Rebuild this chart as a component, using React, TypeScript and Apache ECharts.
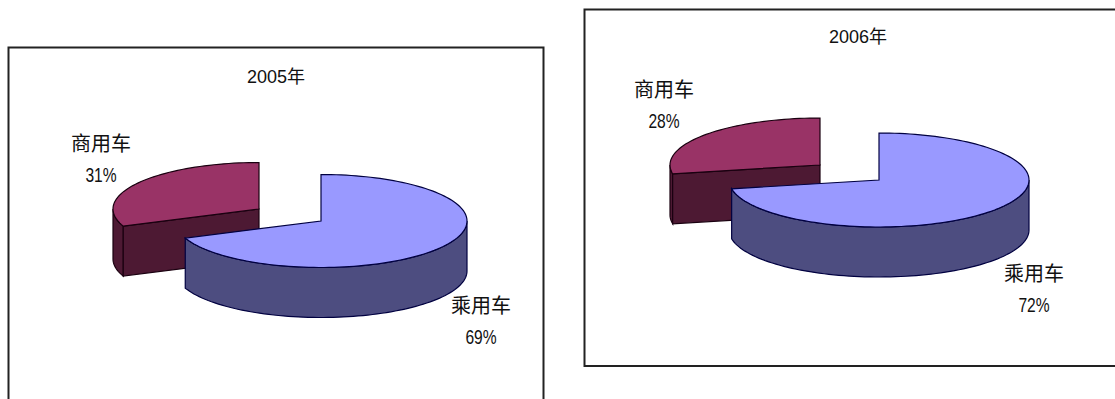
import React, { useEffect, useRef } from "react";
import * as echarts from "echarts";

const categories = ["商用车", "乘用车"];
const share2005 = [31, 69];
const share2006 = [28, 72];
const years = ["2005年", "2006年"];

const FONT = '"Liberation Sans", "Noto Sans CJK SC", sans-serif';
const TOP_COLORS = ["#993366", "#9999ff"];
const SIDE_COLORS = ["#4d1933", "#4d4d80"];
const EDGE = ["#1a0010", "#000040"];

type Panel = {
  year: string;
  shares: number[];
  frame: number[];
  titleAt: number[];
  rx: number;
  ry: number;
  depth: number;
  hubs: number[][];
  labels: number[][];
};

const panels: Panel[] = [
  {
    year: years[0],
    shares: share2005,
    frame: [8.5, 47.5, 535, 400],
    titleAt: [276, 68],
    rx: 146,
    ry: 46.5,
    depth: 50,
    hubs: [[259, 209], [321, 221]],
    labels: [[101, 144], [481, 306]],
  },
  {
    year: years[1],
    shares: share2006,
    frame: [584.5, 9.5, 540, 356.5],
    titleAt: [858, 28],
    rx: 150,
    ry: 47,
    depth: 50,
    hubs: [[820, 165], [879, 180]],
    labels: [[664, 90], [1034, 274]],
  },
];

// Elliptical rim point; the angle runs clockwise from twelve o'clock, in degrees.
const rim = (hub: number[], rx: number, ry: number, deg: number, drop = 0): number[] => {
  const a = (deg * Math.PI) / 180;
  return [hub[0] + rx * Math.sin(a), hub[1] - ry * Math.cos(a) + drop];
};

const arcPoints = (hub: number[], rx: number, ry: number, from: number, to: number, drop = 0) => {
  const steps = Math.max(2, Math.ceil(Math.abs(to - from) / 2));
  const pts: number[][] = [];
  for (let i = 0; i <= steps; i++) pts.push(rim(hub, rx, ry, from + ((to - from) * i) / steps, drop));
  return pts;
};

const face = (points: number[][], fill: string, stroke: string) => ({
  type: "polygon",
  shape: { points },
  style: { fill, stroke, lineWidth: 1.2 },
});

const pieSeries = (panel: Panel) => ({
  type: "custom",
  coordinateSystem: "none",
  silent: true,
  data: categories.map((name, i) => ({ name, value: [panel.shares[i]] })),
  renderItem: (params: any, api: any) => {
    const i = params.dataIndex;
    const { rx, ry, depth } = panel;
    const hub = panel.hubs[i];
    // 乘用车 starts at twelve o'clock; 商用车 closes the circle back to it.
    const sweep = api.value(0) * 3.6;
    const start = i === 1 ? 0 : 360 - sweep;
    const end = start + sweep;
    const children: any[] = [];

    // Outer wall, only where the rim faces the viewer (90° to 270°).
    const wallFrom = Math.max(start, 90);
    const wallTo = Math.min(end, 270);
    if (wallTo > wallFrom) {
      children.push(
        face(
          [
            ...arcPoints(hub, rx, ry, wallFrom, wallTo),
            ...arcPoints(hub, rx, ry, wallTo, wallFrom, depth),
          ],
          SIDE_COLORS[i],
          EDGE[i],
        ),
      );
    }
    // Cut face of the slice that opens toward the viewer.
    if (i === 0) {
      const tip = rim(hub, rx, ry, start);
      children.push(
        face(
          [hub, tip, [tip[0], tip[1] + depth], [hub[0], hub[1] + depth]],
          SIDE_COLORS[i],
          EDGE[i],
        ),
      );
    }
    // Top of the slice.
    children.push(face([hub, ...arcPoints(hub, rx, ry, start, end)], TOP_COLORS[i], EDGE[i]));

    const at = panel.labels[i];
    // Name on the first line, condensed percentage on the second.
    children.push({
      type: "text",
      x: at[0],
      y: at[1],
      style: {
        text: categories[i],
        font: `20px ${FONT}`,
        fill: "#111",
        align: "center",
        verticalAlign: "middle",
      },
    });
    children.push({
      type: "text",
      x: at[0],
      y: at[1] + 31,
      scaleX: 0.78,
      style: {
        text: `${api.value(0)}%`,
        font: `20px ${FONT}`,
        fill: "#111",
        align: "center",
        verticalAlign: "middle",
      },
    });
    return { type: "group", children };
  },
});

export default function App() {
  const ref = useRef<HTMLDivElement>(null);
  useEffect(() => {
    document.body.style.margin = "0";
    const chart = echarts.init(ref.current!, undefined, { renderer: "svg" });
    chart.setOption({
      animation: false,
      backgroundColor: "#fff",
      title: panels.map((p) => ({
        text: p.year,
        left: p.titleAt[0],
        top: p.titleAt[1],
        textAlign: "center",
        padding: 0,
        textStyle: { fontFamily: FONT, fontSize: 18, fontWeight: "normal", color: "#111" },
      })),
      graphic: panels.map((p) => ({
        type: "rect",
        shape: { x: p.frame[0], y: p.frame[1], width: p.frame[2], height: p.frame[3] },
        style: { fill: "none", stroke: "#222", lineWidth: 2 },
      })),
      series: panels.map(pieSeries),
    });
    return () => chart.dispose();
  }, []);
  return <div ref={ref} style={{ width: 1115, height: 399 }} />;
}
